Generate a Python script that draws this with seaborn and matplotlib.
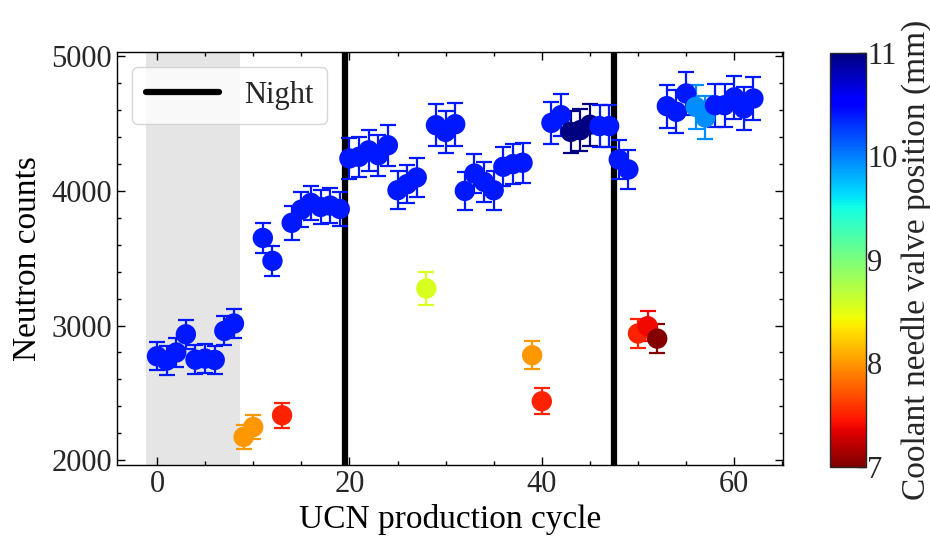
import numpy as np
import pandas as pd
import matplotlib
matplotlib.use("Agg")
import matplotlib.pyplot as plt
import seaborn as sns
from matplotlib.ticker import MultipleLocator

# ---- data ----
cycle = list(range(63))
counts = [2772, 2740, 2800, 2935, 2747, 2755, 2745, 2960, 3015,
          2173, 2247, 3650, 3480, 2334,
          3762, 3860, 3910, 3880, 3890, 3865,
          4240, 4252, 4300, 4264, 4338, 4004, 4049, 4099,
          3275,
          4487, 4437, 4494, 3999, 4128, 4066, 4004, 4178, 4198, 4208,
          2780, 2438,
          4504, 4561, 4437, 4450, 4490, 4480, 4480, 4232, 4158,
          2941, 2995, 2903,
          4628, 4586, 4722, 4623, 4544, 4635, 4635, 4693, 4611, 4685]
errors = [105, 105, 105, 108, 105, 105, 105, 108, 110,
          90, 92, 112, 112, 92,
          126, 128, 128, 128, 128, 128,
          150, 150, 152, 152, 152, 142, 142, 145,
          120,
          158, 158, 158, 142, 148, 146, 146, 146, 148, 148,
          105, 97,
          155, 157, 157, 157, 157, 157, 157, 148, 146,
          108, 110, 105,
          160, 160, 161, 161, 161, 160, 160, 162, 160, 162]
valve = [10.4] * 9 + [8.0, 8.0, 10.4, 10.4, 7.5] + [10.4] * 6 + [10.4] * 8 + [8.55] \
        + [10.4] * 10 + [8.0, 7.5] + [10.4, 10.4, 11.0, 11.0, 11.0, 10.4, 10.4, 10.4, 10.4] \
        + [7.5, 7.4, 7.02] + [10.4, 10.4, 10.4, 9.95, 9.95, 10.4, 10.4, 10.4, 10.4, 10.4]
night_lines = [19.5, 47.5]
shade_span = [-1.1, 8.6]

df = pd.DataFrame({"cycle": cycle, "counts": counts, "err": errors, "valve": valve})

# ---- style ----
sns.set_theme(style="ticks")
plt.rcParams["font.family"] = ["Liberation Serif", "DejaVu Serif"]
plt.rcParams["mathtext.fontset"] = "dejavuserif"

fig = plt.figure(figsize=(9.3, 5.5), dpi=100)
ax = fig.add_axes([0.1258, 0.1545, 0.7162, 0.751])
cax = fig.add_axes([0.8925, 0.151, 0.0385, 0.753])

cmap = plt.get_cmap("jet_r")
norm = matplotlib.colors.Normalize(vmin=7, vmax=11)

ax.axvspan(shade_span[0], shade_span[1], color="#e5e5e5", lw=0, zorder=0)
for i, xv in enumerate(night_lines):
    ax.axvline(xv, color="black", lw=4.5, zorder=1, label="Night" if i == 0 else None)

for _, r in df.iterrows():
    ax.errorbar(r["cycle"], r["counts"], yerr=r["err"], fmt="none",
                ecolor=cmap(norm(r["valve"])), elinewidth=1.6, capsize=6,
                capthick=1.6, zorder=2)

sns.scatterplot(data=df, x="cycle", y="counts", hue="valve", palette="jet_r",
                hue_norm=(7, 11), s=215, edgecolor="none", legend=False,
                ax=ax, zorder=3)

ax.set_xlim(-4.16, 65.08)
ax.set_ylim(1965, 5030)
ax.xaxis.set_major_locator(MultipleLocator(20))
ax.xaxis.set_minor_locator(MultipleLocator(5))
ax.yaxis.set_major_locator(MultipleLocator(1000))
ax.yaxis.set_minor_locator(MultipleLocator(200))
ax.tick_params(which="both", direction="in", top=True, right=True,
               labelsize=22, width=1.0, color="black")
ax.tick_params(which="major", length=6)
ax.tick_params(which="minor", length=3)
for s in ax.spines.values():
    s.set_linewidth(1.0)
    s.set_color("black")
ax.set_xlabel("UCN production cycle", fontsize=24, color="black", labelpad=4)
ax.set_ylabel("Neutron counts", fontsize=24, color="black", labelpad=6)

leg = ax.legend(loc="upper left", fontsize=22, handlelength=2.4,
                fancybox=True, framealpha=0.8, edgecolor="#cccccc",
                borderpad=0.45, handletextpad=0.8)

sm = matplotlib.cm.ScalarMappable(norm=norm, cmap=cmap)
cb = fig.colorbar(sm, cax=cax)
cb.set_ticks([7, 8, 9, 10, 11])
cb.ax.yaxis.set_minor_locator(MultipleLocator(0.2))
cb.ax.tick_params(which="both", direction="in", labelsize=22, width=1.0,
                  color="black", pad=1)
cb.ax.tick_params(which="major", length=6)
cb.ax.tick_params(which="minor", length=3)
cb.outline.set_linewidth(1.0)
cb.set_label("Coolant needle valve position (mm)", fontsize=24, labelpad=2)

fig.savefig("out.png", dpi=100)
